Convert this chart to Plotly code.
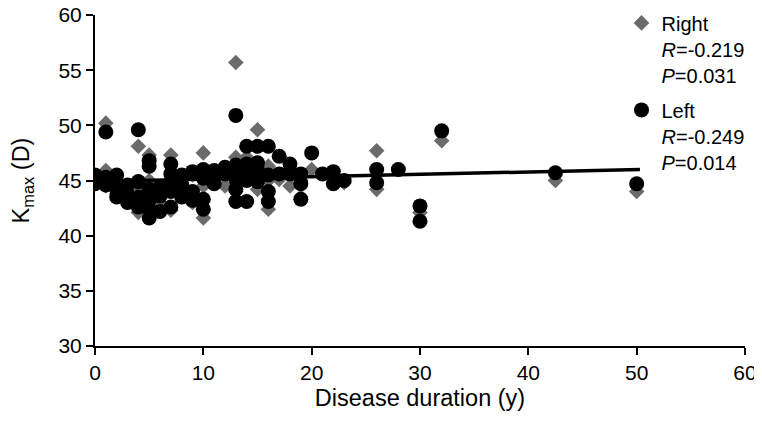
import plotly.graph_objects as go

# Left eye (black circles)
left_x = [0, 0, 0,
          1, 1, 1, 1,
          2, 2, 2,
          3, 3, 3,
          4, 4, 4, 4,
          5, 5, 5, 5, 5, 5,
          6, 6, 6,
          7, 7, 7, 7, 7,
          8, 8, 8,
          9, 9, 9,
          10, 10, 10, 10,
          11, 11,
          12, 12,
          13, 13, 13, 13, 13, 13,
          14, 14, 14, 14, 14,
          15, 15, 15, 15,
          16, 16, 16, 16,
          17, 17,
          18, 18,
          19, 19, 19,
          20, 21, 22, 22, 23,
          26, 26, 28, 30, 30, 32, 42.5, 50]
left_y = [45.5, 44.7, 45.0,
          49.4, 45.3, 44.6, 45.0,
          45.5, 44.2, 43.5,
          44.6, 43.0, 43.8,
          49.6, 44.9, 43.5, 42.6,
          46.8, 46.3, 44.2, 43.2, 42.4, 41.6,
          42.2, 43.6, 44.4,
          46.5, 45.6, 44.8, 44.0, 42.6,
          45.5, 44.6, 43.5,
          45.8, 44.0, 43.2,
          46.0, 45.2, 43.3, 42.4,
          45.9, 44.7,
          46.2, 45.6,
          50.9, 46.4, 45.8, 45.1, 44.2, 43.1,
          48.1, 46.5, 45.7, 45.0, 43.1,
          48.1, 46.6, 45.9, 44.9,
          48.1, 45.5, 44.0, 43.1,
          47.2, 45.6,
          46.5, 45.6,
          45.6, 44.7, 43.3,
          47.5, 45.6, 45.8, 44.7, 45.0,
          46.0, 44.8, 46.0, 42.7, 41.3, 49.5, 45.7, 44.7]

# Right eye (grey diamonds)
right_x = [0, 0, 1, 1, 1, 2, 2, 3, 3, 4, 4, 4, 5, 5, 5, 6, 6,
           7, 7, 7, 8, 8, 9, 9, 10, 10, 10, 11, 12, 12, 13, 13, 13,
           14, 14, 15, 15, 15, 16, 16, 16, 17, 18, 18, 19, 19, 20,
           22, 23, 26, 26, 30, 32, 42.5, 50]
right_y = [45.4, 44.8, 50.2, 45.9, 44.5, 45.0, 43.8, 44.2, 43.2, 48.1, 42.1, 44.5,
           47.3, 43.0, 45.0, 43.0, 44.4,
           47.3, 45.0, 42.3, 44.8, 43.5, 45.5, 43.0, 47.5, 41.6, 44.5, 45.5,
           44.5, 46.0, 55.7, 47.1, 44.0,
           47.1, 45.5, 49.6, 46.0, 44.2, 46.3, 42.4, 45.0, 45.1, 46.0, 44.5,
           45.0, 43.5, 46.0,
           45.5, 44.8, 47.7, 44.2, 42.1, 48.6, 45.0, 44.0]

# Trend line end points
trend_x = [0, 50.3]
trend_y = [44.9, 46.0]

right_name = "Right<br><i>R</i>=-0.219<br><i>P</i>=0.031"
left_name = "Left<br><i>R</i>=-0.249<br><i>P</i>=0.014"

FONT = "Liberation Sans, Arial, sans-serif"

fig = go.Figure()
fig.add_trace(go.Scatter(
    x=right_x, y=right_y, mode="markers", name=right_name, legendgroup="r",
    marker=dict(symbol="diamond", size=12, color="#6b6b6b", line=dict(width=0))))
fig.add_trace(go.Scatter(
    x=left_x, y=left_y, mode="markers", name=left_name, legendgroup="l",
    marker=dict(symbol="circle", size=15, color="black", line=dict(width=0))))
fig.add_trace(go.Scatter(
    x=trend_x, y=trend_y, mode="lines", showlegend=False,
    line=dict(color="black", width=3.5)))

tick_font = dict(family=FONT, size=21, color="black")
title_font = dict(family=FONT, size=23.5, color="black")

fig.update_layout(
    width=754, height=413,
    margin=dict(l=87, r=17, t=7, b=75, autoexpand=False),
    paper_bgcolor="white", plot_bgcolor="white",
    font=tick_font,
    showlegend=True,
    legend=dict(
        x=0.81, y=1.035, xanchor="left", yanchor="top",
        bgcolor="rgba(0,0,0,0)", valign="top",
        font=dict(family=FONT, size=20, color="black"),
        itemsizing="trace", tracegroupgap=6, itemwidth=30,
    ),
    xaxis=dict(
        range=[0, 60], tickvals=[0, 10, 20, 30, 40, 50, 60],
        showgrid=False, zeroline=False,
        showline=True, linecolor="black", linewidth=2,
        ticks="outside", ticklen=7, tickwidth=2, tickcolor="black",
        title=dict(text="Disease duration (y)", font=title_font, standoff=6),
        tickfont=tick_font, automargin=False, ticklabeloverflow="allow",
    ),
    yaxis=dict(
        range=[30, 60], tickvals=[30, 35, 40, 45, 50, 55, 60],
        showgrid=False, zeroline=False,
        showline=True, linecolor="black", linewidth=2,
        ticks="outside", ticklen=7, tickwidth=2, tickcolor="black",
        title=dict(text="K<sub>max</sub> (D)", font=title_font, standoff=26),
        tickfont=tick_font, automargin=False, ticklabeloverflow="allow",
    ),
)

fig.write_html("out.html")
